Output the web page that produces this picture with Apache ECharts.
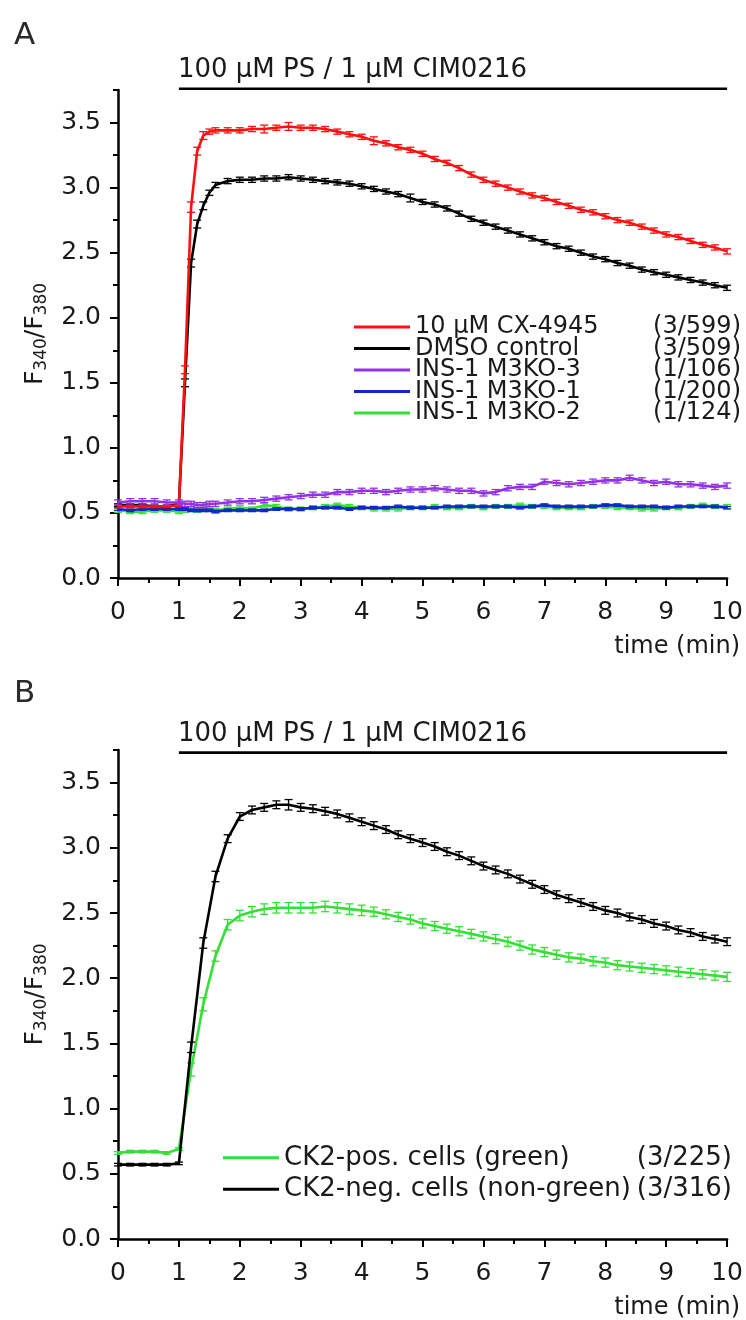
<!DOCTYPE html>
<html>
<head>
<meta charset="utf-8">
<script src="https://cdn.jsdelivr.net/npm/echarts@6/dist/echarts.min.js"></script>
<style>html,body{margin:0;padding:0;background:#fff;}#c{width:746px;height:1320px;}</style>
</head>
<body>
<div id="c"></div>
<script>
// ---------- data ----------
var timesA = [0,0.2,0.4,0.6,0.8,1.0,1.1,1.2,1.3,1.4,1.5,1.6,1.8,2.0,2.2,2.4,2.6,2.8,3.0,3.2,3.4,3.6,3.8,4.0,4.2,4.4,4.6,4.8,5.0,5.2,5.4,5.6,5.8,6.0,6.2,6.4,6.6,6.8,7.0,7.2,7.4,7.6,7.8,8.0,8.2,8.4,8.6,8.8,9.0,9.2,9.4,9.6,9.8,10.0];
var redA = [0.55,0.55,0.55,0.55,0.55,0.56,
  1.60,2.85,3.28,3.40,3.43,3.44,
  3.44,3.44,3.45,3.45,3.46,3.47,3.46,3.46,3.45,3.43,
  3.41,3.39,3.36,3.34,3.31,3.29,3.26,3.22,3.19,3.15,
  3.10,3.06,3.03,3.00,2.97,2.94,2.92,2.89,2.86,2.83,
  2.81,2.78,2.75,2.73,2.70,2.67,2.64,2.62,2.59,2.56,
  2.54,2.51];
var blackA = [0.56,0.56,0.56,0.55,0.55,0.57,
  1.50,2.42,2.72,2.86,2.96,3.02,
  3.05,3.06,3.06,3.07,3.07,3.08,3.07,3.06,3.05,3.04,
  3.03,3.01,2.99,2.97,2.95,2.92,2.89,2.87,2.84,2.80,
  2.76,2.73,2.70,2.67,2.64,2.61,2.58,2.55,2.53,2.50,
  2.47,2.45,2.42,2.40,2.37,2.35,2.33,2.31,2.29,2.27,
  2.25,2.23];
var purpleA = [0.58,0.59,0.59,0.59,0.58,0.58,
  0.57,0.57,0.56,0.56,0.57,0.57,
  0.58,0.59,0.59,0.60,0.61,0.62,0.63,0.64,0.64,0.66,
  0.66,0.67,0.67,0.66,0.67,0.68,0.68,0.69,0.68,0.67,
  0.67,0.65,0.66,0.69,0.70,0.70,0.74,0.73,0.72,0.73,
  0.74,0.75,0.75,0.77,0.75,0.73,0.74,0.72,0.72,0.71,
  0.70,0.71];
var blueA = [0.53,0.52,0.53,0.53,0.53,0.53,
  0.53,0.52,0.52,0.52,0.52,0.51,
  0.52,0.52,0.52,0.52,0.53,0.53,0.53,0.54,0.54,0.54,
  0.53,0.54,0.54,0.54,0.55,0.54,0.54,0.54,0.55,0.55,
  0.55,0.55,0.55,0.55,0.54,0.55,0.56,0.55,0.55,0.55,
  0.55,0.56,0.56,0.55,0.55,0.55,0.54,0.55,0.55,0.55,
  0.55,0.54];
var greenA = [0.52,0.51,0.51,0.52,0.52,0.51,
  0.52,0.53,0.52,0.53,0.53,0.52,
  0.53,0.54,0.53,0.56,0.55,0.53,0.53,0.54,0.55,0.56,
  0.55,0.54,0.53,0.53,0.53,0.54,0.54,0.55,0.54,0.54,
  0.55,0.54,0.55,0.55,0.56,0.55,0.55,0.54,0.54,0.54,
  0.55,0.55,0.54,0.54,0.53,0.53,0.54,0.54,0.55,0.56,
  0.55,0.55];
var errRedA = [0.01,0.01,0.01,0.01,0.01,0.01,
  0.03,0.04,0.03,0.03,0.02,0.02,
  0.02,0.02,0.02,0.03,0.02,0.03,0.02,0.02,0.02,0.02,
  0.02,0.02,0.03,0.02,0.02,0.02,0.02,0.02,0.02,0.02,
  0.02,0.02,0.02,0.02,0.02,0.02,0.02,0.02,0.02,0.02,
  0.02,0.02,0.02,0.02,0.02,0.02,0.02,0.02,0.02,0.02,
  0.02,0.02];
var errBlackA = [0.01,0.01,0.01,0.01,0.01,0.01,
  0.03,0.03,0.03,0.03,0.02,0.02,
  0.02,0.02,0.02,0.02,0.02,0.02,0.02,0.02,0.02,0.02,
  0.02,0.02,0.02,0.02,0.02,0.03,0.02,0.02,0.02,0.02,
  0.02,0.02,0.02,0.02,0.02,0.02,0.02,0.02,0.02,0.02,
  0.02,0.02,0.02,0.02,0.02,0.02,0.02,0.02,0.02,0.02,
  0.02,0.02];
var errPurpleA = [0.02,0.02,0.02,0.02,0.02,0.02,
  0.02,0.02,0.02,0.02,0.02,0.02,
  0.02,0.02,0.02,0.02,0.02,0.02,0.02,0.02,0.02,0.02,
  0.02,0.02,0.02,0.02,0.02,0.02,0.02,0.02,0.02,0.02,
  0.02,0.02,0.02,0.02,0.02,0.02,0.02,0.02,0.02,0.02,
  0.02,0.02,0.02,0.02,0.02,0.02,0.02,0.02,0.02,0.02,
  0.02,0.02];
var errBlueA = [0.01,0.01,0.01,0.01,0.01,0.01,
  0.01,0.01,0.01,0.01,0.01,0.01,
  0.01,0.01,0.01,0.01,0.01,0.01,0.01,0.01,0.01,0.01,
  0.01,0.01,0.01,0.01,0.01,0.01,0.01,0.01,0.01,0.01,
  0.01,0.01,0.01,0.01,0.01,0.01,0.01,0.01,0.01,0.01,
  0.01,0.01,0.01,0.01,0.01,0.01,0.01,0.01,0.01,0.01,
  0.01,0.01];
var errGreenA = [0.015,0.015,0.015,0.015,0.015,0.015,
  0.015,0.015,0.015,0.015,0.015,0.015,
  0.015,0.015,0.015,0.015,0.015,0.015,0.015,0.015,0.015,0.015,
  0.015,0.015,0.015,0.015,0.015,0.015,0.015,0.015,0.015,0.015,
  0.015,0.015,0.015,0.015,0.015,0.015,0.015,0.015,0.015,0.015,
  0.015,0.015,0.015,0.015,0.015,0.015,0.015,0.015,0.015,0.015,
  0.015,0.015];

var timesB = [0,0.2,0.4,0.6,0.8,1.0,1.2,1.4,1.6,1.8,2.0,2.2,2.4,2.6,2.8,3.0,3.2,3.4,3.6,3.8,4.0,4.2,4.4,4.6,4.8,5.0,5.2,5.4,5.6,5.8,6.0,6.2,6.4,6.6,6.8,7.0,7.2,7.4,7.6,7.8,8.0,8.2,8.4,8.6,8.8,9.0,9.2,9.4,9.6,9.8,10.0];
var blackB = [0.57,0.57,0.57,0.57,0.57,0.58,
  1.47,2.27,2.78,3.07,3.24,
  3.29,3.31,3.33,3.33,3.31,3.30,3.28,3.26,3.23,3.20,
  3.17,3.14,3.10,3.07,3.04,3.01,2.97,2.94,2.90,2.86,
  2.83,2.80,2.76,2.72,2.68,2.64,2.61,2.58,2.55,2.52,
  2.50,2.47,2.45,2.42,2.40,2.37,2.35,2.32,2.30,2.28];
var greenB = [0.66,0.67,0.67,0.67,0.66,0.69,
  1.30,1.80,2.17,2.41,2.48,
  2.51,2.53,2.54,2.54,2.54,2.54,2.55,2.54,2.53,2.52,
  2.51,2.49,2.47,2.45,2.42,2.40,2.38,2.36,2.34,2.32,
  2.30,2.28,2.25,2.22,2.20,2.18,2.16,2.15,2.13,2.12,
  2.10,2.09,2.08,2.07,2.06,2.05,2.04,2.03,2.02,2.01];
var errBlackB = [0.01,0.01,0.01,0.01,0.01,0.01,
  0.04,0.04,0.04,0.03,0.03,
  0.03,0.03,0.03,0.04,0.03,0.03,0.03,0.03,0.03,0.03,
  0.03,0.03,0.03,0.03,0.03,0.03,0.03,0.03,0.03,0.03,
  0.03,0.03,0.03,0.03,0.03,0.03,0.03,0.03,0.03,0.03,
  0.03,0.03,0.03,0.03,0.03,0.03,0.03,0.03,0.03,0.03];
var errGreenB = [0.01,0.01,0.01,0.01,0.01,0.01,
  0.05,0.05,0.04,0.04,0.04,
  0.04,0.04,0.04,0.04,0.04,0.04,0.04,0.04,0.04,0.04,
  0.035,0.035,0.035,0.035,0.035,0.035,0.035,0.035,0.035,0.035,
  0.035,0.035,0.035,0.035,0.035,0.035,0.035,0.035,0.035,0.035,
  0.035,0.035,0.035,0.035,0.035,0.035,0.035,0.035,0.035,0.035];

var namesA = ['10 µM CX-4945','DMSO control','INS-1 M3KO-3','INS-1 M3KO-1','INS-1 M3KO-2'];
var countsA = ['(3/599)','(3/509)','(1/106)','(1/200)','(1/124)'];
var namesB = ['CK2-pos. cells (green)','CK2-neg. cells (non-green)'];
var countsB = ['(3/225)','(3/316)'];
var xTicks = [0,1,2,3,4,5,6,7,8,9,10];
var yTicks = [0,0.5,1.0,1.5,2.0,2.5,3.0,3.5];
var stimText = '100 µM PS / 1 µM CIM0216';
var stimStart = 1, stimEnd = 10, stimYA = 3.76, stimYB = 3.73;
var yTitle = 'F{s|340}/F{s|380}';
var xTitle = 'time (min)';

// ---------- styles ----------
var FONT = "'DejaVu Sans', sans-serif";
var TXT = '#1a1a1a';
var C = {red:'#ff1010', black:'#000000', purple:'#9232e6', blue:'#1028c8', green:'#34e034'};

function zip(t, v, e){ return t.map(function(x,i){ return e ? [x, v[i], e[i]] : [x, v[i]]; }); }

function errRender(color){
  return function(params, api){
    var x = api.value(0), y = api.value(1), e = api.value(2);
    var lo = api.coord([x, y - e]), hi = api.coord([x, y + e]);
    var w = 4, st = {stroke: color, lineWidth: 1.3};
    return {type:'group', children:[
      {type:'line', shape:{x1:lo[0],y1:lo[1],x2:hi[0],y2:hi[1]}, style:st},
      {type:'line', shape:{x1:lo[0]-w,y1:lo[1],x2:lo[0]+w,y2:lo[1]}, style:st},
      {type:'line', shape:{x1:hi[0]-w,y1:hi[1],x2:hi[0]+w,y2:hi[1]}, style:st}
    ]};
  };
}

function lineSeries(name, data, color, xi, yi, z){
  return {type:'line', name:name, data:data, xAxisIndex:xi, yAxisIndex:yi, symbol:'none',
    showSymbol:false, lineStyle:{color:color, width:2.6}, itemStyle:{color:color}, z:z, silent:true, animation:false};
}
function errSeries(data, color, xi, yi, z){
  return {type:'custom', name:'err', data:data, xAxisIndex:xi, yAxisIndex:yi, renderItem:errRender(color),
    encode:{x:0, y:1}, z:z, silent:true, animation:false};
}

function xAxisDef(gi){
  return {type:'value', gridIndex:gi, min:0, max:10, interval:1,
    axisLine:{show:true, onZero:false, lineStyle:{color:'#000', width:2.5}},
    axisTick:{show:true, inside:false, length:8, customValues:xTicks, lineStyle:{color:'#000', width:2}},
    minorTick:{show:true, splitNumber:2, length:5, lineStyle:{color:'#000', width:2}},
    splitLine:{show:false}, minorSplitLine:{show:false},
    axisLabel:{fontFamily:FONT, fontSize:25, color:TXT, margin:22, formatter:function(v){return String(v);}},
    name:xTitle, nameLocation:'end', nameGap:13,
    nameTextStyle:{fontFamily:FONT, fontSize:24, color:TXT, align:'right', verticalAlign:'top', padding:[57,0,0,0]}
  };
}
function yMajorDef(gi){
  return {type:'value', gridIndex:gi, min:0, max:3.75, interval:0.5, position:'left',
    axisLine:{show:true, onZero:false, lineStyle:{color:'#000', width:2.5}},
    axisTick:{show:true, inside:false, length:8, customValues:yTicks, lineStyle:{color:'#000', width:2}},
    splitLine:{show:false},
    axisLabel:{fontFamily:FONT, fontSize:25, color:TXT, margin:17,
      formatter:function(v){ return v > 3.6 ? '' : v.toFixed(1); }},
    name:yTitle, nameLocation:'middle', nameGap:68, nameRotate:90,
    nameTextStyle:{fontFamily:FONT, fontSize:25, color:TXT,
      rich:{s:{fontFamily:FONT, fontSize:17, color:TXT, verticalAlign:'bottom', padding:[12,0,0,0]}}}
  };
}
function yMinorDef(gi){
  return {type:'value', gridIndex:gi, min:0, max:3.75, interval:0.25, position:'left',
    axisLine:{show:false}, splitLine:{show:false}, axisLabel:{show:false},
    axisTick:{show:true, inside:false, length:5, lineStyle:{color:'#000', width:2}}
  };
}

function legendDef(names, counts, left, top, fs, lh, gap, nw){
  return {data:names, left:left, top:top, orient:'vertical', icon:'rect', itemWidth:56, itemHeight:3,
    itemGap:gap, selectedMode:false, padding:0,
    formatter:function(n){ return '{n|' + n + '}{c|' + counts[names.indexOf(n)] + '}'; },
    textStyle:{fontFamily:FONT, fontSize:fs, color:TXT, lineHeight:lh,
      rich:{n:{fontFamily:FONT, fontSize:fs, color:TXT, width:nw, lineHeight:lh},
            c:{fontFamily:FONT, fontSize:fs, color:TXT, width:90, align:'right', lineHeight:lh}}}
  };
}

var chart = echarts.init(document.getElementById('c'), null, {renderer:'canvas'});
var option = {
  backgroundColor:'#ffffff',
  animation:false,
  grid:[{left:118, top:90, width:610, height:488}, {left:118, top:750, width:610, height:490}],
  xAxis:[xAxisDef(0), xAxisDef(1)],
  yAxis:[yMajorDef(0), yMinorDef(0), yMajorDef(1), yMinorDef(1)],
  legend:[legendDef(namesA, countsA, 354, 315, 24, 24, -2.5, 236), legendDef(namesB, countsB, 223, 1142, 26, 31.5, 0, 358)],
  series:[
    lineSeries(namesA[4], zip(timesA, greenA), C.green, 0, 0, 2),
    errSeries(zip(timesA, greenA, errGreenA), C.green, 0, 0, 2),
    lineSeries(namesA[3], zip(timesA, blueA), C.blue, 0, 0, 3),
    errSeries(zip(timesA, blueA, errBlueA), C.blue, 0, 0, 3),
    lineSeries(namesA[1], zip(timesA, blackA), C.black, 0, 0, 4),
    errSeries(zip(timesA, blackA, errBlackA), C.black, 0, 0, 4),
    lineSeries(namesA[0], zip(timesA, redA), C.red, 0, 0, 5),
    errSeries(zip(timesA, redA, errRedA), C.red, 0, 0, 5),
    lineSeries(namesA[2], zip(timesA, purpleA), C.purple, 0, 0, 6),
    errSeries(zip(timesA, purpleA, errPurpleA), C.purple, 0, 0, 6),
    lineSeries(namesB[0], zip(timesB, greenB), C.green, 1, 2, 3),
    errSeries(zip(timesB, greenB, errGreenB), C.green, 1, 2, 3),
    lineSeries(namesB[1], zip(timesB, blackB), C.black, 1, 2, 4),
    errSeries(zip(timesB, blackB, errBlackB), C.black, 1, 2, 4),
    {type:'line', name:'stimA', data:[[stimStart, stimYA],[stimEnd, stimYA]], xAxisIndex:0, yAxisIndex:0,
      symbol:'none', clip:false, lineStyle:{color:'#000', width:2.6}, z:7, silent:true},
    {type:'line', name:'stimB', data:[[stimStart, stimYB],[stimEnd, stimYB]], xAxisIndex:1, yAxisIndex:2,
      symbol:'none', clip:false, lineStyle:{color:'#000', width:2.6}, z:7, silent:true}
  ]
};
chart.setOption(option);

var pA = chart.convertToPixel({xAxisIndex:0, yAxisIndex:0}, [stimStart, stimYA]);
var pB = chart.convertToPixel({xAxisIndex:1, yAxisIndex:2}, [stimStart, stimYB]);
chart.setOption({graphic:[
  {type:'text', left:14, top:20, style:{text:'A', fontFamily:FONT, fontSize:31, fill:'#2a2a2a'}},
  {type:'text', left:14, top:678, style:{text:'B', fontFamily:FONT, fontSize:31, fill:'#2a2a2a'}},
  {type:'text', x:pA[0]-1, y:pA[1]-5, style:{text:stimText, fontFamily:FONT, fontSize:26, fill:TXT, align:'left', verticalAlign:'bottom'}},
  {type:'text', x:pB[0]-1, y:pB[1]-5, style:{text:stimText, fontFamily:FONT, fontSize:26, fill:TXT, align:'left', verticalAlign:'bottom'}}
]});
</script>
</body>
</html>
